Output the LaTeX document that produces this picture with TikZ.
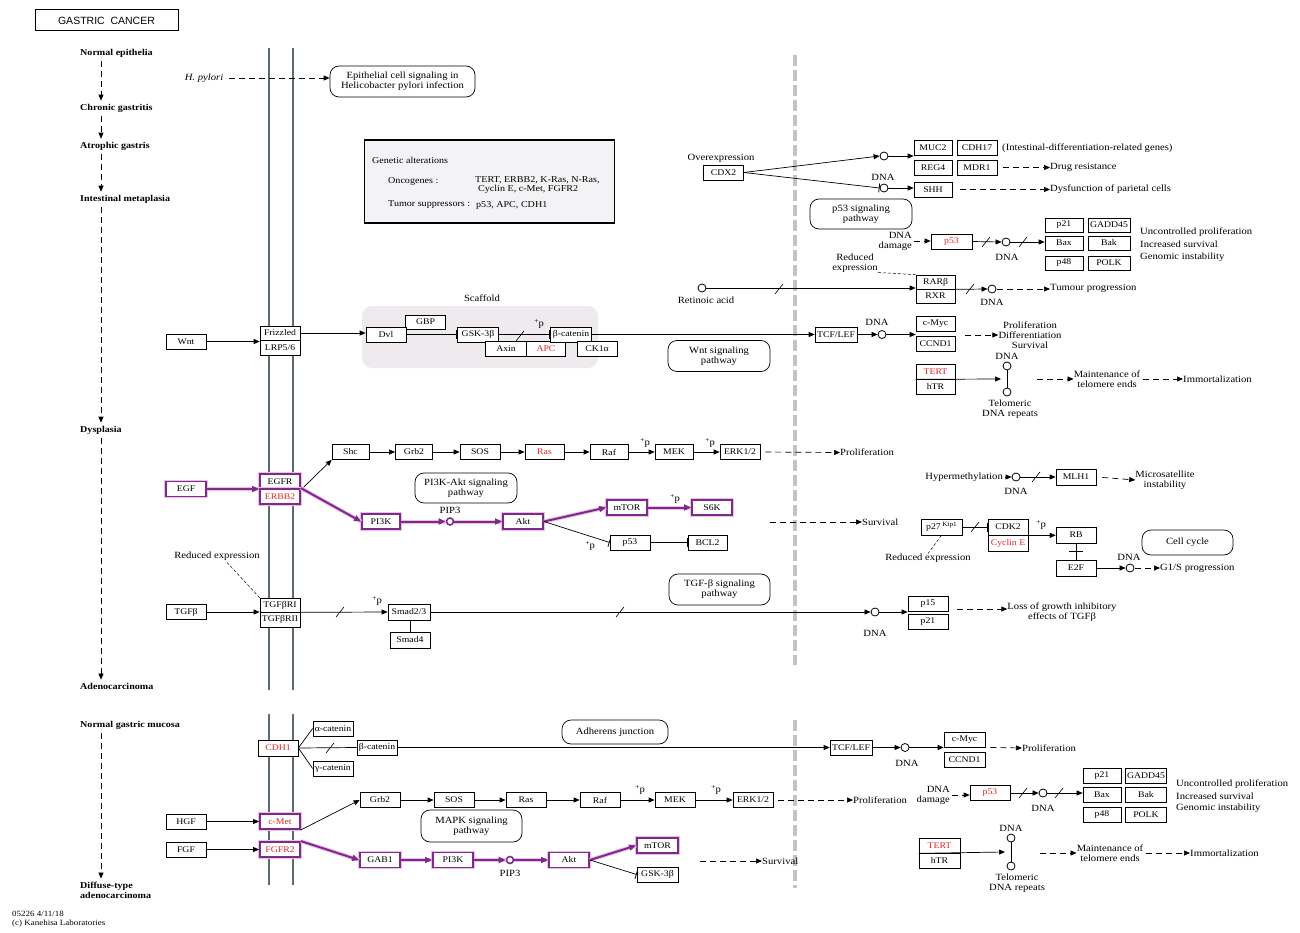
\documentclass[tikz,border=0pt]{standalone}
\usepackage{fontspec}
\setmainfont[FakeStretch=1.12]{Liberation Serif}
\newfontfamily\ksans{Liberation Sans}
\usetikzlibrary{arrows.meta,calc}
\definecolor{purp}{HTML}{7E2A8A}
\definecolor{glow}{HTML}{EDBFE8}
\definecolor{kred}{HTML}{E0262C}
\definecolor{memb}{HTML}{5B6B6E}
\definecolor{vgray}{HTML}{C6C2C2}
\definecolor{gafill}{HTML}{F3F2F4}
\definecolor{scfill}{HTML}{EFEAEE}
\newcommand\kfont{\fontsize{9.5}{10}\selectfont}
\newcommand\kbox{\fontsize{8.7}{9.5}\selectfont}
\newcommand\ksmall{\fontsize{8}{9}\selectfont}
\newcommand\kp{\raisebox{2.5pt}{\fontsize{7}{7}\selectfont+}p}
\newcommand\kslash[2]{\draw[line width=0.6pt] (#1,#2) ++(-4,5) -- ++(8,-10);}
\begin{document}
\begin{tikzpicture}[x=1pt,y=-1pt,
  lbl/.style={inner sep=0pt, font=\kfont, align=center},
  stage/.style={inner sep=0pt, font=\fontsize{9}{10}\selectfont\bfseries, anchor=west, align=left},
  gene/.style={draw, fill=white, line width=0.7pt, minimum width=40pt, minimum height=15pt, inner sep=0pt, font=\kbox},
  rgene/.style={gene, text=kred},
  pgene/.style={gene, draw=purp, line width=1.8pt, preaction={draw=glow, line width=3.8pt}},
  prgene/.style={pgene, text=kred},
  pw/.style={draw, line width=0.7pt, rounded corners=9pt, align=center, inner sep=0pt, font=\kfont},
  cnode/.style={circle, draw, fill=white, line width=0.8pt, minimum size=8pt, inner sep=0pt},
  con/.style={line width=0.7pt},
  arr/.style={con, -{Triangle[length=6pt,width=5pt]}},
  darr/.style={arr, dash pattern=on 6pt off 4pt},
  inh/.style={con, -{Bar[width=9pt,line width=0.8pt]}},
  parr/.style={draw=purp, line width=2pt, -{Triangle[length=7pt,width=6pt]}, preaction={draw=glow, line width=4pt, -}},
  thind/.style={line width=0.5pt, dash pattern=on 3pt off 2pt},
  membl/.style={memb, line width=2.6pt},
]
\useasboundingbox (0,0) rectangle (1300,933);
\fill[white] (0,0) rectangle (1300,933);

% ---------- title and stages ----------
\node[draw, line width=1pt, minimum width=143pt, minimum height=21pt, inner sep=0pt, font=\ksans\fontsize{10.5}{11}\selectfont] (title) at (106.5,20.5) {GASTRIC\ \ CANCER};

\node[stage] (s1) at (80,53) {Normal epithelia};
\node[stage] (s2) at (80,108) {Chronic gastritis};
\node[stage] (s3) at (80,146) {Atrophic gastris};
\node[stage] (s4) at (80,199) {Intestinal metaplasia};
\node[stage] (s5) at (80,430) {Dysplasia};
\node[stage] (s6) at (80,686) {Adenocarcinoma};
\node[stage] (s7) at (80,725) {Normal gastric mucosa};
\node[stage] (s8) at (80,890) {Diffuse-type\\adenocarcinoma};
\coordinate (ax) at (101,0);
\draw[darr, shorten <=4pt, shorten >=3pt] (s1.south -| ax) -- (s2.north -| ax);
\draw[darr, shorten <=4pt, shorten >=3pt] (s2.south -| ax) -- (s3.north -| ax);
\draw[darr, shorten <=4pt, shorten >=3pt] (s3.south -| ax) -- (s4.north -| ax);
\draw[darr, shorten <=4pt, shorten >=3pt] (s4.south -| ax) -- (s5.north -| ax);
\draw[darr, shorten <=4pt, shorten >=3pt] (s5.south -| ax) -- (s6.north -| ax);
\draw[darr, shorten <=4pt, shorten >=3pt] (s7.south -| ax) -- (s8.north -| ax);

% ---------- membranes and nucleus border ----------
\foreach \mx in {269,293} {
  \draw[membl] (\mx,48) -- (\mx,690);
  \draw[membl] (\mx,714) -- (\mx,885);
}
\draw[vgray, line width=4pt, dash pattern=on 11pt off 4pt] (795,55) -- (795,665);
\draw[vgray, line width=4pt, dash pattern=on 11pt off 4pt] (795,720) -- (795,888);

% ---------- H. pylori ----------
\node[lbl, font=\kfont\itshape] (hp) at (204,78) {H. pylori};
\node[pw, minimum width=145pt, minimum height=31pt] (ecs) at (402.5,81.5) {Epithelial cell signaling in\\Helicobacter pylori infection};
\draw[darr, shorten <=6pt] (hp.east) -- (hp.east -| ecs.west);

% ---------- genetic alterations ----------
\node[draw, line width=1.2pt, fill=gafill, minimum width=250pt, minimum height=83pt, inner sep=0pt] (ga) at (489.5,181.5) {};
\node[lbl, anchor=west, font=\fontsize{9}{9.5}\selectfont] (gat) at (372,160) {Genetic alterations};
\node[lbl, anchor=west, font=\fontsize{9}{9.5}\selectfont] (onc) at (388,181) {Oncogenes :};
\node[lbl, anchor=west, align=left, font=\fontsize{9}{8.4}\selectfont] (oncl) at (475,185) {TERT, ERBB2, K-Ras, N-Ras,\\\hspace{3pt}Cyclin E, c-Met, FGFR2};
\node[lbl, anchor=west, font=\fontsize{9}{9.5}\selectfont] (tsup) at (388,205) {Tumor suppressors :};
\node[lbl, anchor=west, font=\fontsize{9}{9.5}\selectfont] (tsl) at (476,205) {p53, APC, CDH1};

% ---------- CDX2 ----------
\node[lbl] (ovx) at (721,158) {Overexpression};
\node[gene] (cdx) at (723.5,172.5) {CDX2};
\node[cnode] (c1) at (884,156) {};
\node[cnode] (c2) at (884,188) {};
\node[lbl] (dnac2) at (883,177) {DNA};
\node[gene, minimum width=38pt] (muc2) at (933,148) {MUC2};
\node[gene] (cdh17) at (977,148) {CDH17};
\node[gene, minimum width=38pt] (reg4) at (933,167.5) {REG4};
\node[gene] (mdr1) at (977,167.5) {MDR1};
\node[gene, minimum width=38pt] (shh) at (933,189.5) {SHH};
\node[lbl, anchor=west] (idg) at (1002,148) {(Intestinal-differentiation-related genes)};
\node[lbl, anchor=west] (drug) at (1050,167.5) {Drug resistance};
\node[lbl, anchor=west] (dysf) at (1050,189.5) {Dysfunction of parietal cells};
\draw[arr] (cdx.east) -- (c1.west);
\draw[inh] (cdx.east) -- (c2.west);
\draw[arr] (c1.east) -- (c1.east -| muc2.west);
\draw[arr] (c2.east) -- (c2.east -| shh.west);
\draw[darr, shorten <=6pt] (mdr1.east) -- (drug.west);
\draw[darr, shorten <=8pt] (shh.east) -- (dysf.west);

% ---------- p53 (top) ----------
\node[pw, minimum width=102pt, minimum height=30pt] (p53pw) at (861,214) {p53 signaling\\pathway};
\node[lbl, align=right, anchor=east] (dd1) at (912,241) {DNA\\damage};
\node[rgene, minimum width=41pt] (p53a) at (951.5,241.5) {p53};
\node[cnode] (c3) at (1006,242) {};
\node[lbl] (dnac3) at (1007,257) {DNA};
\node[gene, minimum width=38pt, minimum height=14pt] (p21a) at (1064,225) {p21};
\node[gene, minimum width=42pt, minimum height=14pt] (gadda) at (1109,225) {GADD45};
\node[gene, minimum width=38pt, minimum height=14pt] (baxa) at (1064,243) {Bax};
\node[gene, minimum width=42pt, minimum height=14pt] (baka) at (1109,243) {Bak};
\node[gene, minimum width=38pt, minimum height=14pt] (p48a) at (1064,263) {p48};
\node[gene, minimum width=42pt, minimum height=14pt] (polka) at (1109,263) {POLK};
\node[lbl, anchor=west] (up1) at (1140,232) {Uncontrolled proliferation};
\node[lbl, anchor=west] (is1) at (1140,244.5) {Increased survival};
\node[lbl, anchor=west] (gi1) at (1140,257) {Genomic instability};
\draw[darr, shorten <=2pt] (dd1.east) -- (dd1.east -| p53a.west);
\draw[arr] (p53a.east) -- (c3.west);
\kslash{986}{242}
\draw[arr] (c3.east) -- (c3.east -| baxa.west);
\kslash{1023}{242}

% ---------- RAR / RXR ----------
\node[lbl] (re1) at (855,263) {Reduced\\expression};
\node[gene, minimum width=39pt, minimum height=14pt] (rarb) at (935.5,282) {RARβ};
\node[gene, minimum width=39pt, minimum height=14pt] (rxr) at (935.5,296) {RXR};
\node[cnode] (ra) at (702,288) {};
\node[lbl] (ral) at (706,300) {Retinoic acid};
\node[cnode] (c4) at (992,289) {};
\node[lbl] (dnac4) at (992,302) {DNA};
\node[lbl, anchor=west] (tump) at (1050,288) {Tumour progression};
\draw[thind] (re1.south east) -- (rarb.north west);
\draw[arr] (ra.east) -- (ra.east -| rarb.west);
\kslash{779}{289}
\draw[arr] (rarb.south east) -- (c4.west);
\kslash{970}{289}
\draw[darr, shorten <=1pt] (c4.east) -- (c4.east -| tump.west);

% ---------- Wnt row ----------
\fill[scfill, rounded corners=10pt] (362,306) rectangle (598,368);
\node[lbl] (scl) at (482,298) {Scaffold};
\node[gene] (wnt) at (186,341.5) {Wnt};
\node[gene, minimum height=14pt] (frz) at (280,333) {Frizzled};
\node[gene] (lrp) at (280,347.5) {LRP5/6};
\node[gene, minimum height=14pt] (gbp) at (425.5,322) {GBP};
\node[gene] (dvl) at (386,334.5) {Dvl};
\node[gene, minimum width=41pt] (gsk) at (478,334.5) {GSK-3β};
\node[gene, minimum width=41pt] (axin) at (506,349) {Axin};
\node[rgene, minimum width=39pt] (apc) at (546,349) {APC};
\node[gene, minimum width=41pt] (bcat) at (571,334.5) {β-catenin};
\node[gene] (ck1) at (597,349) {CK1α};
\node[lbl] (pp1) at (539,324) {\kp};
\draw[arr] (wnt.east) -- (wnt.east -| frz.west);
\draw[arr] (frz.east) -- (frz.east -| dvl.west);
\draw[inh] (dvl.east) -- (gsk.west);
\draw[inh] (gsk.east) -- (bcat.west);
\kslash{520}{336}
\node[pw, minimum width=102pt, minimum height=31pt] (wntpw) at (719,356) {Wnt signaling\\pathway};
\node[gene, minimum width=42pt] (tcf1) at (836,334.5) {TCF/LEF};
\draw[arr] (bcat.east) -- (tcf1.west);
\node[cnode] (c5) at (882,334.5) {};
\node[lbl] (dnac5) at (877,322) {DNA};
\node[gene, minimum width=39pt] (cmyc1) at (935.5,323.5) {c-Myc};
\node[gene, minimum width=39pt] (ccnd1a) at (935.5,343.5) {CCND1};
\draw[arr] (tcf1.east) -- (c5.west);
\draw[arr] (c5.east) -- (c5.east -| cmyc1.west);
\node[lbl] (pds) at (1030,335) {Proliferation\\Differentiation\\Survival};
\draw[darr] (965,335) coordinate (pdsS) -- (pds.west);
\node[rgene, minimum width=39pt] (tert1) at (935.5,371.5) {TERT};
\node[gene, minimum width=39pt] (htr1) at (935.5,386.5) {hTR};
\node[cnode] (dna1) at (1007,366) {};
\node[cnode] (tel1) at (1007,392) {};
\node[lbl] (dnal1) at (1007,356) {DNA};
\node[lbl] (tell1) at (1010,409) {Telomeric\\DNA repeats};
\draw[con] (dna1) -- (tel1);
\draw[arr] (tert1.south west) -- ($(dna1)!0.5!(tel1)+(-6,0)$) coordinate (tj1);
\node[lbl] (mt1) at (1107,379) {Maintenance of\\telomere ends};
\node[lbl, anchor=west] (imm1) at (1183,379) {Immortalization};
\draw[darr] (1037,379) coordinate (mtS1) -- (mt1.west);
\draw[darr, shorten <=3pt] (mt1.east) -- (imm1.west);

% ---------- EGF row ----------
\node[gene, minimum width=37pt] (shc) at (350.5,452) {Shc};
\node[gene, minimum width=37pt] (grb2a) at (414,452) {Grb2};
\node[gene, minimum width=40pt] (sosa) at (480,452) {SOS};
\node[rgene, minimum width=39pt] (rasa) at (544.5,452) {Ras};
\node[gene, minimum width=38pt] (rafa) at (609,452) {Raf};
\node[gene, minimum width=38pt] (meka) at (674,452) {MEK};
\node[gene, minimum width=40pt] (erka) at (740,452) {ERK1/2};
\draw[arr] (shc) -- (grb2a);
\draw[arr] (grb2a) -- (sosa);
\draw[arr] (sosa) -- (rasa);
\draw[arr] (rasa) -- (rafa);
\draw[arr] (rafa) -- (meka);
\draw[arr] (meka) -- (erka);
\node[lbl] (pp2) at (645,443) {\kp};
\node[lbl] (pp3) at (710,443) {\kp};
\node[lbl, anchor=west] (prol1) at (840,452.5) {Proliferation};
\draw[darr, shorten <=5pt] (erka.east) -- (prol1.west);

\node[pgene] (egf) at (186,489) {EGF};
\node[pgene] (egfr) at (280,481.5) {EGFR};
\node[prgene] (erbb2) at (280,496.5) {ERBB2};
\draw[parr] (egf.east) -- (egf.east -| egfr.west);
\draw[arr] (egfr.south east) -- (shc.south west);
\node[pgene, minimum width=38pt] (pi3k) at (381,521.5) {PI3K};
\node[cnode, draw=purp, line width=1.6pt, minimum size=7pt] (pip3) at (450,521.5) {};
\node[lbl] (pip3l) at (450,510) {PIP3};
\node[pgene] (akt) at (523,521.5) {Akt};
\node[pgene] (mtor) at (627,507.5) {mTOR};
\node[pgene] (s6k) at (712,507.5) {S6K};
\node[gene] (p53b) at (630,542.5) {p53};
\node[gene, minimum width=39pt] (bcl2) at (707.5,542.5) {BCL2};
\draw[parr] (erbb2.north east) -- (pi3k.west);
\draw[parr] (pi3k) -- (pip3);
\draw[parr] (pip3) -- (akt);
\draw[parr] (akt.east) -- (mtor.west);
\draw[parr] (mtor) -- (s6k);
\node[lbl] (pp4) at (675,499) {\kp};
\draw[inh] (akt.east) -- (p53b.west);
\node[lbl] (pp5) at (590,546) {\kp};
\draw[inh] (p53b) -- (bcl2);
\node[pw, minimum width=102pt, minimum height=30pt] (pi3kpw) at (466,488) {PI3K-Akt signaling\\pathway};
\node[lbl, anchor=west] (surv1) at (862,522) {Survival};
\draw[darr] (770,522) coordinate (svS1) -- (surv1.west);

% ---------- hypermethylation / cell cycle ----------
\node[lbl, anchor=east] (hm) at (1003,477) {Hypermethylation};
\node[cnode] (c6) at (1016,477) {};
\node[lbl] (dnac6) at (1016,491) {DNA};
\node[gene, minimum height=16pt] (mlh1) at (1076,477) {MLH1};
\node[lbl] (msi) at (1165,480) {Microsatellite\\instability};
\draw[darr, shorten <=2pt] (hm.east) -- (c6.west);
\draw[arr] (c6.east) -- (mlh1.west);
\kslash{1036}{477}
\draw[darr, shorten <=6pt] (mlh1.east) -- (msi.west);

\node[gene, minimum width=41pt, minimum height=16pt] (p27) at (941.5,527) {p27\,\raisebox{2.5pt}{\fontsize{6.5}{7}\selectfont Kip1}};
\node[gene, minimum height=16pt] (cdk2) at (1008,527) {CDK2};
\node[rgene, minimum height=16pt] (cyce) at (1008,543) {Cyclin E};
\node[lbl] (re2) at (928,558) {Reduced expression};
\draw[thind] (p27.south) -- (re2.north);
\draw[inh] (p27) -- (cdk2);
\kslash{975}{527}
\node[gene, minimum height=16pt] (rb) at (1076,535) {RB};
\node[gene, minimum height=16pt] (e2f) at (1076,568) {E2F};
\draw[arr] (cdk2.south east) -- (cdk2.south east -| rb.west);
\node[lbl] (pp6) at (1041,525) {\kp};
\draw[con] (rb) -- (e2f);
\draw[con] (1069,551.5) -- (1083,551.5);
\node[cnode] (c7) at (1130,568) {};
\node[lbl] (dnac7) at (1129,557) {DNA};
\node[lbl, anchor=west] (g1s) at (1160,568) {G1/S progression};
\draw[arr] (e2f) -- (c7);
\draw[darr, shorten <=1pt] (c7.east) -- (g1s.west);
\node[pw, minimum width=91pt, minimum height=25pt] (ccpw) at (1187.5,542.5) {Cell cycle};

% ---------- TGF row ----------
\node[lbl] (re3) at (217,556) {Reduced expression};
\node[gene] (tgfb) at (186,612) {TGFβ};
\node[gene, minimum height=14pt] (tgfr1) at (280,605) {TGFβRI};
\node[gene, minimum height=15pt] (tgfr2) at (280,619.5) {TGFβRII};
\draw[thind] (re3.south) ++(10,2) -- (tgfr1.north west);
\draw[arr] (tgfb.east) -- (tgfb.east -| tgfr1.west);
\node[gene, minimum width=42pt, minimum height=16pt] (smad23) at (409,612) {Smad2/3};
\node[gene, minimum height=16pt] (smad4) at (410,640) {Smad4};
\draw[con] (smad4.north) -- (smad4.north |- smad23.south);
\draw[arr] (tgfr1.south east) -- (smad23.west);
\kslash{340}{612}
\node[lbl] (pp7) at (377,601) {\kp};
\node[cnode] (c8) at (875,612) {};
\node[lbl] (dnac8) at (875,633) {DNA};
\draw[arr] (smad23.east) -- (c8.west);
\kslash{620}{612}
\node[gene, minimum height=15pt] (p15) at (928,603.5) {p15};
\node[gene, minimum height=15pt] (p21c) at (928,621.5) {p21};
\draw[arr] (c8.east) -- (c8.east -| p15.west);
\node[pw, minimum width=101pt, minimum height=31pt] (tgfpw) at (719.5,589.5) {TGF-β signaling\\pathway};
\node[lbl] (lgi) at (1062,612) {Loss of growth inhibitory\\effects of TGFβ};
\draw[darr] (957,609) coordinate (lgS) -- (lgS -| lgi.west);

% ---------- CDH1 row ----------
\node[rgene, minimum height=16pt] (cdh1) at (278,748) {CDH1};
\node[gene] (acat) at (333,728.5) {α-catenin};
\node[gene] (bcat2) at (377,747.5) {β-catenin};
\node[gene] (gcat) at (333,768.5) {γ-catenin};
\draw[con] (cdh1.east) -- (acat.west);
\draw[con] (cdh1.east) -- (gcat.west);
\draw[con] (cdh1.east) -- (bcat2.west);
\kslash{330}{748}
\node[pw, minimum width=106pt, minimum height=24pt] (ajpw) at (615,732) {Adherens junction};
\node[gene, minimum width=42pt] (tcf2) at (851,747.5) {TCF/LEF};
\draw[arr] (bcat2.east) -- (bcat2.east -| tcf2.west);
\node[cnode] (c9) at (905,747.5) {};
\node[lbl] (dnac9) at (907,763) {DNA};
\node[gene, minimum width=41pt] (cmyc2) at (964.5,739.5) {c-Myc};
\node[gene, minimum width=41pt] (ccnd2) at (964.5,759.5) {CCND1};
\draw[arr] (tcf2) -- (c9);
\draw[arr] (c9.east) -- (c9.east -| cmyc2.west);
\node[lbl, anchor=west] (prol2) at (1022,748) {Proliferation};
\draw[darr, shorten <=5pt] (cmyc2.south east) -- (prol2.west);

% ---------- MAPK row (bottom) ----------
\node[gene] (grb2b) at (380,800) {Grb2};
\node[gene] (sosb) at (454,800) {SOS};
\node[gene] (rasb) at (526,800) {Ras};
\node[gene] (rafb) at (600,800) {Raf};
\node[gene] (mekb) at (675,800) {MEK};
\node[gene] (erkb) at (753,800) {ERK1/2};
\draw[arr] (grb2b) -- (sosb);
\draw[arr] (sosb) -- (rasb);
\draw[arr] (rasb) -- (rafb);
\draw[arr] (rafb) -- (mekb);
\draw[arr] (mekb) -- (erkb);
\node[lbl] (pp8) at (640,790) {\kp};
\node[lbl] (pp9) at (716,790) {\kp};
\node[lbl, anchor=west] (prol3) at (853,800) {Proliferation};
\draw[darr, shorten <=5pt] (erkb.east) -- (prol3.west);

\node[gene] (hgf) at (186,821.5) {HGF};
\node[prgene] (cmet) at (280,821.5) {c-Met};
\node[gene] (fgf) at (186,849.5) {FGF};
\node[prgene] (fgfr2) at (280,849.5) {FGFR2};
\draw[arr] (hgf) -- (cmet);
\draw[arr] (fgf) -- (fgfr2);
\draw[arr] (cmet.south east) -- (grb2b.west);
\node[pgene] (gab1) at (380,860) {GAB1};
\node[pgene] (pi3kb) at (453,860) {PI3K};
\node[cnode, draw=purp, line width=1.6pt, minimum size=7pt] (pip3b) at (510,860) {};
\node[lbl] (pip3bl) at (510,873) {PIP3};
\node[pgene] (aktb) at (569,860) {Akt};
\node[pgene, minimum width=41pt] (mtorb) at (657.5,845.5) {mTOR};
\node[gene, minimum width=41pt] (gskb) at (657.5,874.5) {GSK-3β};
\draw[parr] (fgfr2.north east) -- (gab1.west);
\draw[parr] (gab1) -- (pi3kb);
\draw[parr] (pi3kb) -- (pip3b);
\draw[parr] (pip3b) -- (aktb);
\draw[parr] (aktb.east) -- (mtorb.west);
\draw[inh] (aktb.east) -- (gskb.west);
\node[pw, minimum width=101pt, minimum height=32pt] (mapkpw) at (471.5,826) {MAPK signaling\\pathway};
\node[lbl, anchor=west] (surv2) at (762,861) {Survival};
\draw[darr] (700,861) coordinate (svS2) -- (surv2.west);

% ---------- p53 (bottom) ----------
\node[lbl, align=right, anchor=east] (dd2) at (950,795) {DNA\\damage};
\node[rgene] (p53c) at (990,793) {p53};
\node[cnode] (c10) at (1043,793) {};
\node[lbl] (dnac10) at (1043,808) {DNA};
\node[gene, minimum width=38pt] (p21d) at (1102,775.5) {p21};
\node[gene, minimum width=41pt] (gaddd) at (1146,775.5) {GADD45};
\node[gene, minimum width=38pt] (baxd) at (1102,794.5) {Bax};
\node[gene, minimum width=41pt] (bakd) at (1146,794.5) {Bak};
\node[gene, minimum width=38pt] (p48d) at (1102,814.5) {p48};
\node[gene, minimum width=41pt] (polkd) at (1146,814.5) {POLK};
\node[lbl, anchor=west] (up2) at (1176,784) {Uncontrolled proliferation};
\node[lbl, anchor=west] (is2) at (1176,796) {Increased survival};
\node[lbl, anchor=west] (gi2) at (1176,808) {Genomic instability};
\draw[darr, shorten <=2pt] (dd2.east) -- (dd2.east -| p53c.west);
\draw[arr] (p53c.east) -- (c10.west);
\kslash{1023}{793}
\draw[arr] (c10.east) -- (c10.east -| baxd.west);
\kslash{1059}{793}

\node[rgene, minimum width=41pt] (tert2) at (939.5,845.5) {TERT};
\node[gene, minimum width=41pt] (htr2) at (939.5,860.5) {hTR};
\node[cnode] (dna2) at (1011,838) {};
\node[cnode] (tel2) at (1011,866) {};
\node[lbl] (dnal2) at (1011,828) {DNA};
\node[lbl] (tell2) at (1017,883) {Telomeric\\DNA repeats};
\draw[con] (dna2) -- (tel2);
\draw[arr] (tert2.south west) -- ($(dna2)!0.5!(tel2)+(-6,0)$) coordinate (tj2);
\node[lbl] (mt2) at (1110,853) {Maintenance of\\telomere ends};
\node[lbl, anchor=west] (imm2) at (1190,853) {Immortalization};
\draw[darr] (1040,853) coordinate (mtS2) -- (mt2.west);
\draw[darr, shorten <=3pt] (mt2.east) -- (imm2.west);

% ---------- footer ----------
\node[lbl, anchor=west, align=left, font=\ksmall] (foot) at (12,919) {05226 4/11/18\\(c) Kanehisa Laboratories};
\end{tikzpicture}
\end{document}
